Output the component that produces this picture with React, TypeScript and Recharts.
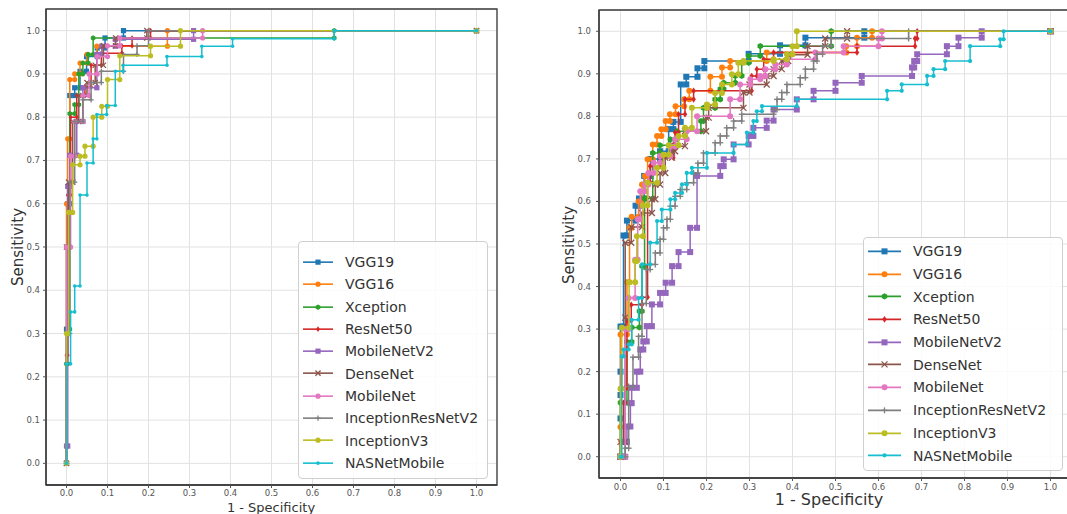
import React from 'react';
import {
  ScatterChart, Scatter, XAxis, YAxis, CartesianGrid, ReferenceArea, Legend
} from 'recharts';

type Pt = [number, number];

const MODELS = [
  'VGG19', 'VGG16', 'Xception', 'ResNet50', 'MobileNetV2',
  'DenseNet', 'MobileNet', 'InceptionResNetV2', 'InceptionV3', 'NASNetMobile'
];

// matplotlib tab10
const COLORS = [
  '#1f77b4', '#ff7f0e', '#2ca02c', '#d62728', '#9467bd',
  '#8c564b', '#e377c2', '#7f7f7f', '#bcbd22', '#17becf'
];

const MARKERS = ['square', 'circle', 'hexagon', 'diamond', 'square', 'x', 'circle', 'plus', 'circle', 'point'];

const TICKS = [0, 0.1, 0.2, 0.3, 0.4, 0.5, 0.6, 0.7, 0.8, 0.9, 1.0];

// ---- left panel: (1 - specificity, sensitivity) ----
const VGG19_L: Pt[] = [[0,0],[0,0.31],[0.003,0.31],[0.003,0.6],[0.008,0.6],[0.008,0.85],[0.02,0.85],[0.02,0.868],[0.033,0.868],[0.033,0.906],[0.049,0.906],[0.049,0.94],[0.075,0.94],[0.075,0.96],[0.094,0.96],[0.094,0.983],[0.139,0.983],[0.139,1],[1,1]];
const VGG16_L: Pt[] = [[0,0],[0,0.6],[0.003,0.6],[0.003,0.75],[0.008,0.75],[0.008,0.887],[0.02,0.887],[0.02,0.9],[0.033,0.9],[0.033,0.925],[0.05,0.925],[0.05,0.945],[0.074,0.945],[0.074,0.964],[0.246,0.964],[0.246,1],[1,1]];
const XCEPTION_L: Pt[] = [[0,0],[0,0.23],[0.003,0.23],[0.003,0.31],[0.008,0.31],[0.008,0.808],[0.02,0.808],[0.02,0.829],[0.03,0.829],[0.03,0.9],[0.04,0.9],[0.04,0.925],[0.053,0.925],[0.053,0.945],[0.065,0.945],[0.065,0.983],[0.653,0.983],[0.653,1],[1,1]];
const RESNET50_L: Pt[] = [[0,0],[0,0.25],[0.003,0.25],[0.003,0.62],[0.01,0.62],[0.01,0.8],[0.025,0.8],[0.025,0.85],[0.045,0.85],[0.045,0.87],[0.06,0.87],[0.06,0.92],[0.085,0.92],[0.085,0.948],[0.135,0.948],[0.135,0.965],[0.16,0.965],[0.16,0.983],[0.205,0.983],[0.205,1],[1,1]];
const MOBILENETV2_L: Pt[] = [[0,0],[0,0.04],[0.003,0.04],[0.003,0.64],[0.008,0.64],[0.008,0.712],[0.025,0.712],[0.025,0.79],[0.04,0.79],[0.04,0.868],[0.074,0.868],[0.074,0.945],[0.086,0.945],[0.086,0.964],[0.119,0.964],[0.119,0.98],[0.31,0.98],[0.31,1],[1,1]];
const DENSENET_L: Pt[] = [[0,0],[0,0.5],[0.005,0.5],[0.005,0.65],[0.015,0.65],[0.015,0.79],[0.03,0.79],[0.03,0.85],[0.05,0.85],[0.05,0.88],[0.07,0.88],[0.07,0.92],[0.09,0.92],[0.09,0.965],[0.12,0.965],[0.12,0.983],[0.196,0.983],[0.196,1],[1,1]];
const MOBILENET_L: Pt[] = [[0,0],[0,0.5],[0.01,0.5],[0.01,0.71],[0.02,0.71],[0.02,0.79],[0.04,0.79],[0.04,0.85],[0.055,0.85],[0.055,0.9],[0.075,0.9],[0.075,0.94],[0.1,0.94],[0.1,0.965],[0.13,0.965],[0.13,0.983],[0.332,0.983],[0.332,1],[1,1]];
const INCRESV2_L: Pt[] = [[0,0],[0,0.3],[0.008,0.3],[0.008,0.65],[0.02,0.65],[0.02,0.79],[0.04,0.79],[0.04,0.84],[0.06,0.84],[0.06,0.88],[0.085,0.88],[0.085,0.906],[0.139,0.906],[0.139,0.945],[0.172,0.945],[0.172,0.965],[0.2,0.965],[0.2,1],[1,1]];
const INCV3_L: Pt[] = [[0,0],[0,0.3],[0.005,0.3],[0.005,0.58],[0.015,0.58],[0.015,0.69],[0.033,0.69],[0.033,0.71],[0.045,0.71],[0.045,0.733],[0.065,0.733],[0.065,0.8],[0.086,0.8],[0.086,0.825],[0.1,0.825],[0.1,0.887],[0.13,0.887],[0.13,0.942],[0.205,0.942],[0.205,0.964],[0.278,0.964],[0.278,1],[1,1]];
const NASNET_L: Pt[] = [[0,0],[0,0.23],[0.01,0.23],[0.01,0.35],[0.02,0.35],[0.02,0.41],[0.033,0.41],[0.033,0.62],[0.05,0.62],[0.05,0.694],[0.065,0.694],[0.065,0.75],[0.074,0.75],[0.074,0.806],[0.098,0.806],[0.098,0.827],[0.119,0.827],[0.119,0.906],[0.138,0.906],[0.138,0.92],[0.245,0.92],[0.245,0.94],[0.33,0.94],[0.33,0.964],[0.405,0.964],[0.405,0.981],[0.653,0.981],[0.653,1],[1,1]];

// ---- right panel ----
const VGG19_R: Pt[] = [[0,0],[0,0.09],[0,0.145],[0,0.2],[0,0.306],[0.007,0.306],[0.007,0.52],[0.015,0.52],[0.015,0.555],[0.035,0.555],[0.035,0.59],[0.043,0.59],[0.043,0.607],[0.055,0.607],[0.055,0.66],[0.07,0.66],[0.07,0.7],[0.092,0.7],[0.092,0.718],[0.112,0.718],[0.112,0.77],[0.123,0.77],[0.123,0.787],[0.14,0.787],[0.14,0.875],[0.153,0.875],[0.153,0.893],[0.179,0.893],[0.179,0.913],[0.195,0.913],[0.195,0.93],[0.298,0.93],[0.298,0.947],[0.371,0.947],[0.371,0.967],[0.43,0.967],[0.43,0.985],[0.567,0.985],[0.567,1],[1,1]];
const VGG16_R: Pt[] = [[0,0],[0,0.07],[0,0.287],[0.015,0.287],[0.015,0.41],[0.021,0.41],[0.021,0.538],[0.026,0.538],[0.026,0.564],[0.042,0.564],[0.042,0.6],[0.05,0.6],[0.05,0.64],[0.057,0.64],[0.057,0.66],[0.063,0.66],[0.063,0.699],[0.075,0.699],[0.075,0.734],[0.085,0.734],[0.085,0.754],[0.095,0.754],[0.095,0.77],[0.105,0.77],[0.105,0.789],[0.115,0.789],[0.115,0.805],[0.128,0.805],[0.128,0.824],[0.148,0.824],[0.148,0.84],[0.16,0.84],[0.16,0.86],[0.209,0.86],[0.209,0.893],[0.236,0.893],[0.236,0.915],[0.255,0.915],[0.255,0.93],[0.34,0.93],[0.34,0.95],[0.525,0.95],[0.525,0.965],[0.55,0.965],[0.55,0.985],[0.585,0.985],[0.585,1],[1,1]];
const XCEPTION_R: Pt[] = [[0,0],[0,0.127],[0.015,0.127],[0.015,0.27],[0.026,0.27],[0.026,0.304],[0.044,0.304],[0.044,0.342],[0.05,0.342],[0.05,0.448],[0.056,0.448],[0.056,0.607],[0.075,0.607],[0.075,0.714],[0.092,0.714],[0.092,0.732],[0.116,0.732],[0.116,0.746],[0.131,0.746],[0.131,0.765],[0.187,0.765],[0.187,0.789],[0.193,0.789],[0.193,0.82],[0.22,0.82],[0.22,0.84],[0.232,0.84],[0.232,0.864],[0.24,0.864],[0.24,0.879],[0.267,0.879],[0.267,0.895],[0.282,0.895],[0.282,0.926],[0.298,0.926],[0.298,0.942],[0.325,0.942],[0.325,0.965],[0.49,0.965],[0.49,1],[1,1]];
const RESNET50_R: Pt[] = [[0,0],[0,0.035],[0.007,0.035],[0.007,0.127],[0.011,0.127],[0.011,0.162],[0.015,0.162],[0.015,0.32],[0.025,0.32],[0.025,0.357],[0.05,0.357],[0.05,0.375],[0.063,0.375],[0.063,0.645],[0.069,0.645],[0.069,0.683],[0.092,0.683],[0.092,0.703],[0.123,0.703],[0.123,0.733],[0.127,0.733],[0.127,0.762],[0.135,0.762],[0.135,0.805],[0.15,0.805],[0.15,0.84],[0.17,0.84],[0.17,0.86],[0.305,0.86],[0.305,0.895],[0.317,0.895],[0.317,0.911],[0.333,0.911],[0.333,0.934],[0.356,0.934],[0.356,0.95],[0.55,0.95],[0.55,0.965],[0.685,0.965],[0.685,0.983],[0.69,0.983],[0.69,1],[1,1]];
const MOBILENETV2_R: Pt[] = [[0,0],[0.011,0],[0.011,0.035],[0.015,0.035],[0.015,0.071],[0.023,0.071],[0.023,0.126],[0.026,0.126],[0.026,0.162],[0.038,0.162],[0.038,0.2],[0.046,0.2],[0.046,0.252],[0.053,0.252],[0.053,0.271],[0.061,0.271],[0.061,0.307],[0.073,0.307],[0.073,0.358],[0.092,0.358],[0.092,0.385],[0.105,0.385],[0.105,0.409],[0.12,0.409],[0.12,0.448],[0.135,0.448],[0.135,0.481],[0.162,0.481],[0.162,0.538],[0.178,0.538],[0.178,0.66],[0.232,0.66],[0.232,0.683],[0.24,0.683],[0.24,0.699],[0.263,0.699],[0.263,0.734],[0.298,0.734],[0.298,0.754],[0.309,0.754],[0.309,0.773],[0.34,0.773],[0.34,0.79],[0.356,0.79],[0.356,0.816],[0.41,0.816],[0.41,0.84],[0.449,0.84],[0.449,0.86],[0.5,0.86],[0.5,0.879],[0.561,0.879],[0.561,0.895],[0.678,0.895],[0.678,0.915],[0.683,0.915],[0.683,0.93],[0.69,0.93],[0.69,0.946],[0.759,0.946],[0.759,0.965],[0.786,0.965],[0.786,0.985],[0.84,0.985],[0.84,1],[1,1]];
const DENSENET_R: Pt[] = [[0,0],[0,0.035],[0.011,0.035],[0.011,0.327],[0.011,0.503],[0.025,0.503],[0.025,0.54],[0.05,0.54],[0.05,0.573],[0.073,0.573],[0.073,0.605],[0.081,0.605],[0.081,0.64],[0.092,0.64],[0.092,0.667],[0.104,0.667],[0.104,0.703],[0.12,0.703],[0.12,0.718],[0.127,0.718],[0.127,0.73],[0.15,0.73],[0.15,0.765],[0.199,0.765],[0.199,0.797],[0.205,0.797],[0.205,0.82],[0.286,0.82],[0.286,0.856],[0.3,0.856],[0.3,0.875],[0.34,0.875],[0.34,0.895],[0.356,0.895],[0.356,0.911],[0.375,0.911],[0.375,0.93],[0.39,0.93],[0.39,0.945],[0.435,0.945],[0.435,0.965],[0.476,0.965],[0.476,0.983],[0.527,0.983],[0.527,1],[1,1]];
const MOBILENET_R: Pt[] = [[0,0],[0.011,0],[0.011,0.3],[0.019,0.3],[0.019,0.373],[0.034,0.373],[0.034,0.463],[0.04,0.463],[0.04,0.558],[0.046,0.558],[0.046,0.624],[0.057,0.624],[0.057,0.64],[0.065,0.64],[0.065,0.667],[0.077,0.667],[0.077,0.691],[0.092,0.691],[0.092,0.707],[0.116,0.707],[0.116,0.73],[0.127,0.73],[0.127,0.746],[0.154,0.746],[0.154,0.765],[0.178,0.765],[0.178,0.8],[0.255,0.8],[0.255,0.84],[0.278,0.84],[0.278,0.875],[0.302,0.875],[0.302,0.887],[0.325,0.887],[0.325,0.895],[0.337,0.895],[0.337,0.911],[0.36,0.911],[0.36,0.922],[0.387,0.922],[0.387,0.934],[0.453,0.934],[0.453,0.95],[0.519,0.95],[0.519,0.965],[0.6,0.965],[0.6,0.983],[0.608,0.983],[0.608,1],[1,1]];
const INCRESV2_R: Pt[] = [[0,0],[0.011,0],[0.011,0.02],[0.019,0.02],[0.019,0.165],[0.029,0.165],[0.029,0.234],[0.042,0.234],[0.042,0.283],[0.05,0.283],[0.05,0.36],[0.06,0.36],[0.06,0.44],[0.069,0.44],[0.069,0.452],[0.081,0.452],[0.081,0.479],[0.092,0.479],[0.092,0.511],[0.1,0.511],[0.1,0.538],[0.108,0.538],[0.108,0.558],[0.116,0.558],[0.116,0.589],[0.127,0.589],[0.127,0.612],[0.139,0.612],[0.139,0.628],[0.154,0.628],[0.154,0.644],[0.17,0.644],[0.17,0.667],[0.18,0.667],[0.18,0.69],[0.193,0.69],[0.193,0.714],[0.22,0.714],[0.22,0.738],[0.232,0.738],[0.232,0.754],[0.247,0.754],[0.247,0.773],[0.263,0.773],[0.263,0.789],[0.282,0.789],[0.282,0.805],[0.356,0.805],[0.356,0.816],[0.364,0.816],[0.364,0.84],[0.375,0.84],[0.375,0.856],[0.387,0.856],[0.387,0.875],[0.418,0.875],[0.418,0.891],[0.43,0.891],[0.43,0.911],[0.449,0.911],[0.449,0.93],[0.457,0.93],[0.457,0.946],[0.47,0.946],[0.47,0.965],[0.49,0.965],[0.49,0.983],[0.67,0.983],[0.67,1],[1,1]];
const INCV3_R: Pt[] = [[0,0],[0,0.16],[0.003,0.16],[0.003,0.303],[0.02,0.303],[0.02,0.41],[0.034,0.41],[0.034,0.46],[0.038,0.46],[0.038,0.518],[0.052,0.518],[0.052,0.591],[0.063,0.591],[0.063,0.644],[0.085,0.644],[0.085,0.679],[0.1,0.679],[0.1,0.71],[0.112,0.71],[0.112,0.732],[0.135,0.732],[0.135,0.754],[0.15,0.754],[0.15,0.773],[0.166,0.773],[0.166,0.82],[0.201,0.82],[0.201,0.828],[0.22,0.828],[0.22,0.855],[0.236,0.855],[0.236,0.875],[0.259,0.875],[0.259,0.899],[0.274,0.899],[0.274,0.926],[0.286,0.926],[0.286,0.93],[0.356,0.93],[0.356,0.934],[0.387,0.934],[0.387,0.946],[0.4,0.946],[0.4,0.965],[0.41,0.965],[0.41,1],[1,1]];
const NASNET_R: Pt[] = [[0,0],[0.003,0],[0.003,0.236],[0.007,0.236],[0.007,0.252],[0.019,0.252],[0.019,0.264],[0.026,0.264],[0.026,0.322],[0.042,0.322],[0.042,0.373],[0.05,0.373],[0.05,0.452],[0.069,0.452],[0.069,0.503],[0.085,0.503],[0.085,0.554],[0.096,0.554],[0.096,0.581],[0.116,0.581],[0.116,0.605],[0.127,0.605],[0.127,0.62],[0.143,0.62],[0.143,0.64],[0.154,0.64],[0.154,0.667],[0.166,0.667],[0.166,0.679],[0.201,0.679],[0.201,0.714],[0.263,0.714],[0.263,0.734],[0.294,0.734],[0.294,0.762],[0.309,0.762],[0.309,0.789],[0.317,0.789],[0.317,0.812],[0.329,0.812],[0.329,0.824],[0.41,0.824],[0.41,0.84],[0.62,0.84],[0.62,0.86],[0.654,0.86],[0.654,0.875],[0.713,0.875],[0.713,0.895],[0.728,0.895],[0.728,0.911],[0.755,0.911],[0.755,0.93],[0.813,0.93],[0.813,0.965],[0.883,0.965],[0.883,0.981],[0.891,0.981],[0.891,1],[1,1]];

const LEFT_CURVES = [VGG19_L, VGG16_L, XCEPTION_L, RESNET50_L, MOBILENETV2_L, DENSENET_L, MOBILENET_L, INCRESV2_L, INCV3_L, NASNET_L];
const RIGHT_CURVES = [VGG19_R, VGG16_R, XCEPTION_R, RESNET50_R, MOBILENETV2_R, DENSENET_R, MOBILENET_R, INCRESV2_R, INCV3_R, NASNET_R];

const FONT = '"DejaVu Sans", Verdana, sans-serif';

const drawMarker = (kind: string, cx: number, cy: number, color: string, s: number, key?: string) => {
  switch (kind) {
    case 'square':
      return <rect key={key} x={cx - s} y={cy - s} width={2 * s} height={2 * s} fill={color} />;
    case 'circle':
      return <circle key={key} cx={cx} cy={cy} r={s} fill={color} />;
    case 'hexagon': {
      const pts = [0, 1, 2, 3, 4, 5].map(k => {
        const a = Math.PI / 6 + (k * Math.PI) / 3;
        return `${cx + s * 1.05 * Math.cos(a)},${cy + s * 1.05 * Math.sin(a)}`;
      }).join(' ');
      return <polygon key={key} points={pts} fill={color} />;
    }
    case 'diamond':
      return <polygon key={key} points={`${cx},${cy - s * 1.1} ${cx + s * 0.75},${cy} ${cx},${cy + s * 1.1} ${cx - s * 0.75},${cy}`} fill={color} />;
    case 'x':
      return (
        <g key={key} stroke={color} strokeWidth={1.3}>
          <line x1={cx - s} y1={cy - s} x2={cx + s} y2={cy + s} />
          <line x1={cx - s} y1={cy + s} x2={cx + s} y2={cy - s} />
        </g>
      );
    case 'plus':
      return (
        <g key={key} stroke={color} strokeWidth={1.3}>
          <line x1={cx - s} y1={cy} x2={cx + s} y2={cy} />
          <line x1={cx} y1={cy - s} x2={cx} y2={cy + s} />
        </g>
      );
    default:
      return <circle key={key} cx={cx} cy={cy} r={s * 0.7} fill={color} />;
  }
};

const makeShape = (kind: string, color: string, s: number) => (props: any) => {
  const { cx, cy } = props;
  if (cx == null || cy == null) return <g />;
  return drawMarker(kind, cx, cy, color, s);
};

interface LegendBoxProps {
  rowH: number;
  padTop: number;
  padBottom: number;
  width: number;
  textX: number;
  markerSize: number;
}

const LegendBox: React.FC<LegendBoxProps> = ({ rowH, padTop, padBottom, width, textX, markerSize }) => (
  <div style={{
    width, boxSizing: 'border-box', paddingTop: padTop, paddingBottom: padBottom,
    background: 'rgba(255,255,255,0.85)', border: '1px solid #d0d0d0', borderRadius: 4,
    fontFamily: FONT, fontSize: 14, color: '#333'
  }}>
    {MODELS.map((m, i) => (
      <div key={m} style={{ height: rowH, display: 'flex', alignItems: 'center', position: 'relative' }}>
        <svg width={textX} height={rowH} style={{ flex: 'none' }}>
          <line x1={4} y1={rowH / 2} x2={textX - 12} y2={rowH / 2} stroke={COLORS[i]} strokeWidth={1.6} />
          {drawMarker(MARKERS[i], (textX - 8) / 2, rowH / 2, COLORS[i], markerSize)}
        </svg>
        <span style={{ whiteSpace: 'nowrap' }}>{m}</span>
      </div>
    ))}
  </div>
);

interface PanelProps {
  curves: Pt[][];
  left: number;
  width: number;
  margin: { top: number; right: number; bottom: number; left: number };
  yAxisWidth: number;
  xTickMargin: number;
  yTickMargin: number;
  markerSize: number;
  legendPos: { left: number; top: number };
  legend: LegendBoxProps;
}

const RocPanel: React.FC<PanelProps> = ({ curves, left, width, margin, yAxisWidth, xTickMargin, yTickMargin, markerSize, legendPos, legend }) => (
  <div style={{ position: 'absolute', left, top: 0 }}>
    <ScatterChart width={width} height={514} margin={margin}>
      <CartesianGrid stroke="#e2e2e2" strokeWidth={1} />
      <XAxis
        type="number" dataKey="x" domain={[-0.05, 1.05]} ticks={TICKS} allowDataOverflow
        tickFormatter={(v: number) => v.toFixed(1)} height={20} tickSize={3} tickMargin={xTickMargin}
        tick={{ fontSize: 8.5, fill: '#555', fontFamily: FONT }}
        axisLine={{ stroke: '#3a3a3a', strokeWidth: 1.3 }} tickLine={{ stroke: '#555' }}
      />
      <YAxis
        type="number" dataKey="y" domain={[-0.05, 1.05]} ticks={TICKS} allowDataOverflow
        tickFormatter={(v: number) => v.toFixed(1)} width={yAxisWidth} tickSize={3} tickMargin={yTickMargin}
        tick={{ fontSize: 8.5, fill: '#555', fontFamily: FONT }}
        axisLine={{ stroke: '#3a3a3a', strokeWidth: 1.3 }} tickLine={{ stroke: '#555' }}
      />
      <ReferenceArea x1={-0.05} x2={1.05} y1={-0.05} y2={1.05} fill="none" fillOpacity={0} stroke="#3a3a3a" strokeWidth={1.3} ifOverflow="visible" />
      {curves.map((c, i) => (
        <Scatter
          key={MODELS[i]}
          name={MODELS[i]}
          data={c.map(([x, y]) => ({ x, y }))}
          fill={COLORS[i]}
          line={{ stroke: COLORS[i], strokeWidth: 1.5 }}
          lineType="joint"
          shape={makeShape(MARKERS[i], COLORS[i], markerSize)}
          isAnimationActive={false}
        />
      ))}
      <Legend
        layout="vertical" align="center" verticalAlign="middle"
        wrapperStyle={{ left: legendPos.left, top: legendPos.top, width: legend.width }}
        content={() => <LegendBox {...legend} />}
      />
    </ScatterChart>
  </div>
);

const Title: React.FC<{ x: number; y: number; size: number; rotate?: boolean; children: React.ReactNode }> = ({ x, y, size, rotate, children }) => (
  <div style={{
    position: 'absolute', left: x, top: y, whiteSpace: 'nowrap', fontFamily: FONT, fontSize: size, color: '#333',
    lineHeight: 1, transform: `translate(-50%, -50%)${rotate ? ' rotate(-90deg)' : ''}`
  }}>{children}</div>
);

export default function App() {
  return (
    <div style={{ position: 'absolute', left: 0, top: 0, width: 1067, height: 514, overflow: 'hidden', background: '#fff' }}>
      <RocPanel
        curves={LEFT_CURVES}
        left={0}
        width={505}
        margin={{ top: 9, right: 8, bottom: 9, left: 16 }}
        yAxisWidth={30}
        xTickMargin={2}
        yTickMargin={3}
        markerSize={2.6}
        legendPos={{ left: 298, top: 241 }}
        legend={{ rowH: 22.3, padTop: 9, padBottom: 4, width: 190, textX: 46, markerSize: 2.6 }}
      />
      <RocPanel
        curves={RIGHT_CURVES}
        left={560}
        width={520}
        margin={{ top: 10, right: 8, bottom: 16, left: 0 }}
        yAxisWidth={39}
        xTickMargin={3}
        yTickMargin={5}
        markerSize={3}
        legendPos={{ left: 303, top: 237 }}
        legend={{ rowH: 22.7, padTop: 2, padBottom: 3, width: 200, textX: 49, markerSize: 3 }}
      />
      <Title x={18} y={247} size={15} rotate>Sensitivity</Title>
      <Title x={271} y={507} size={13}>1 - Specificity</Title>
      <Title x={569} y={245} size={15} rotate>Sensitivity</Title>
      <Title x={829} y={500} size={16}>1 - Specificity</Title>
    </div>
  );
}
